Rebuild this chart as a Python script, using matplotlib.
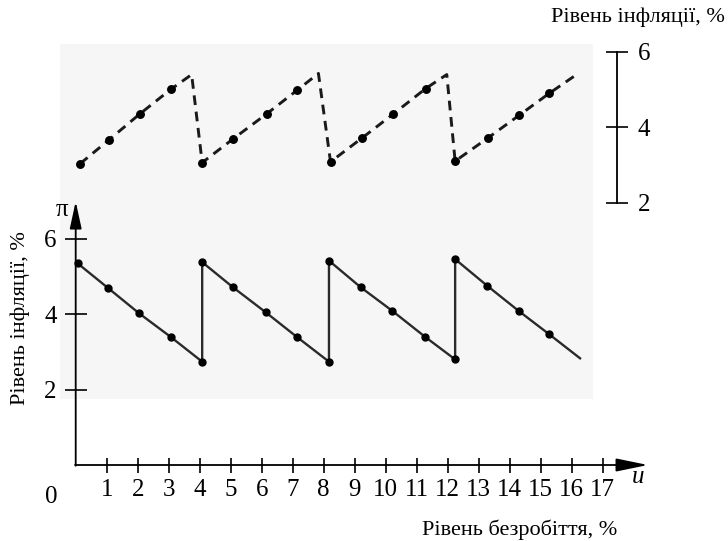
import matplotlib
matplotlib.use("Agg")
import matplotlib.pyplot as plt
from matplotlib.patches import Rectangle

plt.rcParams['font.family'] = ['Liberation Serif', 'DejaVu Serif']
plt.rcParams['lines.scale_dashes'] = False

# ---- data ----
# lower curve (left axis, solid): unemployment u vs inflation pi
lower_u = [0.06, 1.05, 2.05, 3.06, 4.08, 4.08, 5.08, 6.13, 7.13, 8.17,
           8.17, 9.20, 10.21, 11.27, 12.24, 12.24, 13.28, 14.30, 15.27, 16.27]
lower_pi = [5.35, 4.69, 4.02, 3.40, 2.74, 5.38, 4.71, 4.05, 3.40, 2.74,
            5.42, 4.71, 4.09, 3.40, 2.80, 5.46, 4.75, 4.08, 3.47, 2.83]
lower_dots = list(range(19))

# upper curve (right axis, dashed)
upper_u = [0.14, 1.07, 2.07, 3.07, 3.74, 4.08, 5.08, 6.16, 7.15, 7.83,
           8.22, 9.25, 10.25, 11.29, 11.97, 12.24, 13.31, 14.30, 15.27, 16.21]
upper_pi = [3.03, 3.66, 4.35, 5.00, 5.39, 3.06, 3.69, 4.35, 4.98, 5.42,
            3.08, 3.72, 4.35, 5.02, 5.39, 3.10, 3.72, 4.31, 4.89, 5.42]
upper_dots = [0, 1, 2, 3, 5, 6, 7, 8, 10, 11, 12, 13, 15, 16, 17, 18]

x_ticks = list(range(1, 18))
x_ticklabels = [str(t) for t in x_ticks]
left_ticks = [2, 4, 6]
right_ticks = [2, 4, 6]

left_title = "Рівень інфляції, %"
right_title = "Рівень інфляції, %"
x_title = "Рівень безробіття, %"

# ---- layout (pixels of a 728x541 canvas) ----
W, H = 728, 541
U0_PX, U_PX = 75.7, 31.0        # x pixel of u=0, pixels per unit
PI0_PX, PI_PX = 465.0, 37.7     # y pixel (from top) of pi=0, pixels per unit
V2_PX, V_PX = 202.7, 37.8       # y pixel of right-axis value 2, pixels per unit
FS = 16
TFS = 18

fig = plt.figure(figsize=(W / 100, H / 100), dpi=100)
fig.patch.set_facecolor('white')

ax = fig.add_axes([0, 0, 1, 1])
ax.patch.set_alpha(0)
ax.set_xlim(-U0_PX / U_PX, (W - U0_PX) / U_PX)
ax.set_ylim((PI0_PX - H) / PI_PX, PI0_PX / PI_PX)
ax.add_patch(Rectangle((60 / W, 1 - 399 / H), (593 - 60) / W, (399 - 44) / H,
                       transform=fig.transFigure, facecolor='#f6f6f6',
                       edgecolor='none', zorder=0))

ax2 = ax.twinx()
ax2.patch.set_alpha(0)
ax2.set_ylim(2 - (H - V2_PX) / V_PX, 2 + V2_PX / V_PX)

for a in (ax, ax2):
    for s in a.spines.values():
        s.set_visible(False)

# left / bottom axis lines with arrows
ax.spines['left'].set_position(('data', 0))
ax.spines['bottom'].set_position(('data', 0))
ax.annotate('', xy=(0, (PI0_PX - 201.5) / PI_PX), xytext=(0, -0.02),
            arrowprops=dict(arrowstyle='-|>,head_length=1.65,head_width=0.36',
                            mutation_scale=10, lw=1.3, color='black',
                            shrinkA=0, shrinkB=0))
ax.annotate('', xy=((648 - U0_PX) / U_PX, 0), xytext=(-0.02, 0),
            arrowprops=dict(arrowstyle='-|>,head_length=1.95,head_width=0.4',
                            mutation_scale=10, lw=1.3, color='black',
                            shrinkA=0, shrinkB=0))

ax.set_xticks(x_ticks)
ax.set_xticklabels(x_ticklabels, fontsize=TFS)
ax.tick_params(axis='x', direction='inout', length=10.8, width=1.2, pad=5)
ax.set_yticks(left_ticks)
ax.set_yticklabels([str(t) for t in left_ticks], fontsize=TFS)
ax.tick_params(axis='y', direction='inout', length=15.5, width=1.2, pad=6)

# right axis
rx = (616.7 - U0_PX) / U_PX
ax2.spines['right'].set_visible(True)
ax2.spines['right'].set_position(('data', rx))
ax2.spines['right'].set_bounds(2, 6)
ax2.spines['right'].set_linewidth(1.3)
ax2.set_yticks(right_ticks)
ax2.set_yticklabels([str(t) for t in right_ticks], fontsize=TFS)
ax2.tick_params(axis='y', direction='inout', length=15.8, width=1.2, pad=7)

# series
ax.plot(lower_u, lower_pi, color='#2a2a2a', lw=1.7, marker='o', ms=5.0,
        mfc='black', mec='black', markevery=lower_dots, zorder=3,
        solid_joinstyle='miter')
ax2.plot(upper_u, upper_pi, color='#1a1a1a', lw=2.1, linestyle=(0, (7.0, 4.8)),
         marker='o', ms=5.4, mfc='black', mec='black', markevery=upper_dots,
         zorder=3)

# texts
ax.text((51 - U0_PX) / U_PX, (PI0_PX - 497) / PI_PX, '0', fontsize=TFS,
        ha='center', va='center')
ax.text((61.7 - U0_PX) / U_PX, (PI0_PX - 210) / PI_PX, 'π', fontsize=TFS,
        ha='center', va='center')
ax.text((638 - U0_PX) / U_PX, (PI0_PX - 477) / PI_PX, 'u', fontsize=TFS,
        style='italic', ha='center', va='center')
fig.text(20 / W, 1 - 318 / H, left_title, rotation=90, fontsize=FS,
         ha='center', va='center')
fig.text(725 / W, 1 - 17 / H, right_title, fontsize=FS, ha='right', va='center')
fig.text(617 / W, 1 - 530 / H, x_title, fontsize=FS, ha='right', va='center')

fig.savefig('out.png', dpi=100)
